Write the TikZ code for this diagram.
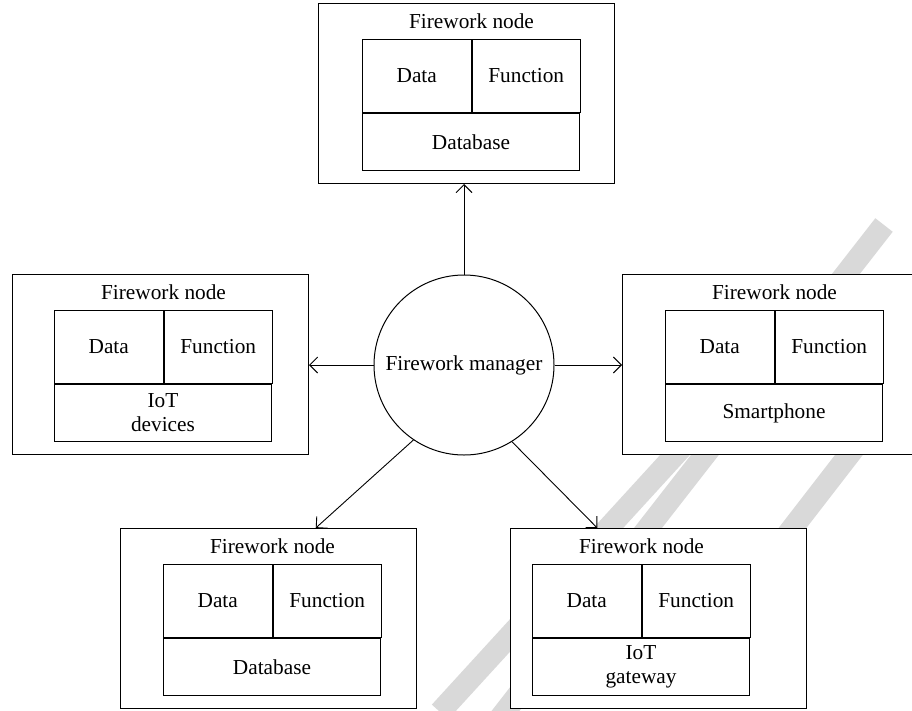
\documentclass[tikz,border=0pt]{standalone}
\usepackage{fontspec}
\setmainfont{Liberation Serif}
\usetikzlibrary{arrows.meta,calc}
\definecolor{wmark}{gray}{0.85}
\tikzset{
  txt/.style={font=\fontsize{21.3}{24}\selectfont},
  outerbox/.style={draw, line width=1pt, fill=white, minimum width=296pt, minimum height=180pt, anchor=north west, inner sep=0pt},
  cellbox/.style={draw, line width=1pt, anchor=north west, inner sep=0pt, txt, align=center},
  arr/.style={line width=0.9pt, -{Straight Barb[length=8pt,width=16pt,line width=0.9pt]}},
  mgrstyle/.style={draw, circle, line width=1pt, fill=white, minimum size=180pt, inner sep=0pt, txt},
  wm/.style={draw=wmark, line width=22pt}
}
\newcommand{\fwbox}[5]{%
  \node[outerbox] (#1) at (#2,#3) {};
  \node[cellbox, minimum width=108.5pt, minimum height=73pt] (#1-data) at ($(#1.north west)+(#4,36)$) {Data};
  \node[cellbox, minimum width=108.5pt, minimum height=73pt] (#1-func) at (#1-data.north east) {Function};
  \node[cellbox, minimum width=217pt, minimum height=57pt] (#1-base) at (#1-data.south west) {#5};
  \node[txt] (#1-title) at ($(#1-data.north east)+(0,-18)$) {Firework node};
}
\begin{document}
\begin{tikzpicture}[x=1pt,y=-1pt]
\useasboundingbox (0,0) rectangle (912,710);
\fill[white] (0,0) rectangle (912,710);
\begin{scope}
\clip (0,0) rectangle (912,710);
\draw[wm] (884,225) -- (500,718);
\draw[wm] (760,362) -- (440,712);
\draw[wm] (930,350) -- (760,570);
\end{scope}
\fwbox{top}{318}{3}{44}{Database}
\fwbox{left}{12}{274}{42}{IoT\\devices}
\fwbox{right}{622}{274}{43}{Smartphone}
\fwbox{bl}{120}{528}{43}{Database}
\fwbox{br}{510}{528}{22}{IoT\\gateway}
\node[mgrstyle] (mgr) at (464,365) {Firework manager};
\draw[arr] (mgr.north) -- (mgr.north |- top.south);
\draw[arr] (mgr.west) -- (mgr.west -| left.east);
\draw[arr] (mgr.east) -- (mgr.east -| right.west);
\draw[arr] (mgr.236) -- ($(bl.north west)!0.659!(bl.north east)$);
\draw[arr] (mgr.302) -- ($(br.north west)!0.294!(br.north east)$);
\end{tikzpicture}
\end{document}
